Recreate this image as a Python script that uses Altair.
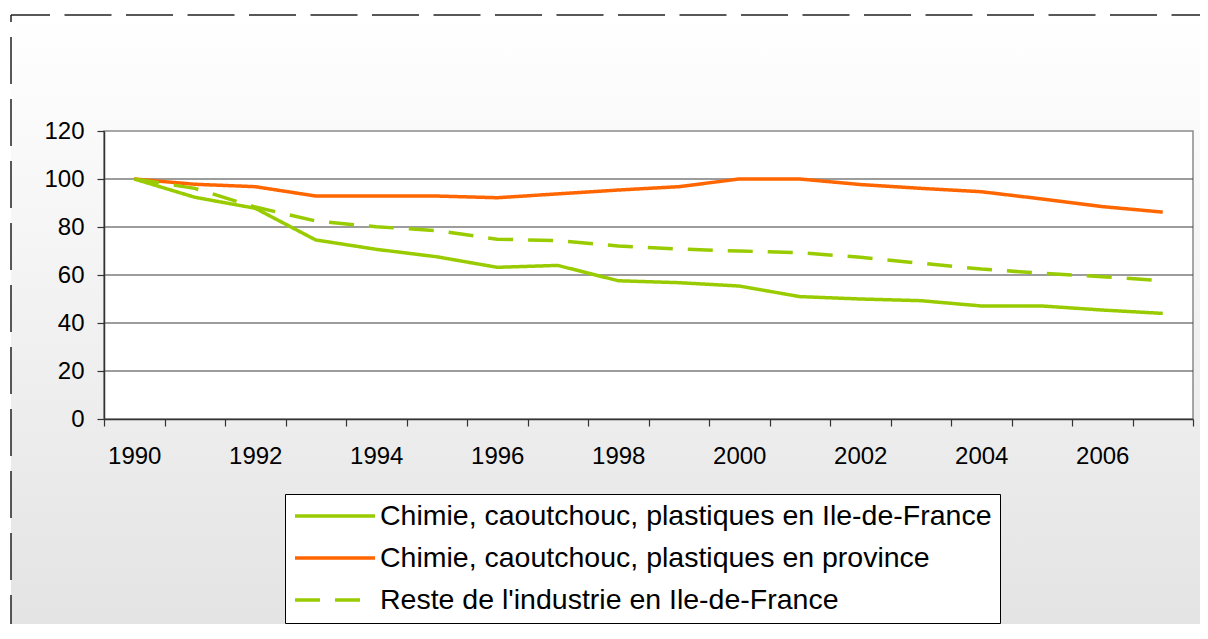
import altair as alt
import pandas as pd

years = list(range(1990, 2008))
chimie_idf = [100, 92.4, 87.8, 74.6, 70.7, 67.6, 63.2, 64.0, 57.6, 56.8, 55.4, 51.0, 50.0, 49.3, 47.1, 47.1, 45.4, 44.0]
chimie_prov = [100, 97.8, 96.8, 92.9, 92.9, 92.9, 92.2, 93.8, 95.4, 96.8, 100, 100, 97.7, 96.1, 94.7, 91.7, 88.5, 86.2]
reste_idf = [100, 96.1, 88.3, 82.5, 80.1, 78.5, 74.9, 74.3, 72.1, 70.8, 70.0, 69.3, 67.4, 64.9, 62.5, 60.7, 59.3, 57.6]

series_names = [
    "Chimie, caoutchouc, plastiques en Ile-de-France",
    "Chimie, caoutchouc, plastiques en province",
    "Reste de l'industrie en Ile-de-France",
]
series_colors = ["#99cc00", "#ff6600", "#99cc00"]
series_dash = [[1, 0], [1, 0], [25, 15]]
y_ticks = [0, 20, 40, 60, 80, 100, 120]
grid_vals = [20, 40, 60, 80, 100]

rows = []
for name, vals in zip(series_names, [chimie_idf, chimie_prov, reste_idf]):
    for yr, v in zip(years, vals):
        rows.append({"annee": yr, "valeur": v, "serie": name})
df = pd.DataFrame(rows)

x_ticks = [y - 0.5 for y in years] + [years[-1] + 0.5]

W, H = 1089, 288
FONT = "Liberation Sans"

xscale = alt.Scale(domain=[years[0] - 0.5, years[-1] + 0.5], nice=False, zero=False)
yscale = alt.Scale(domain=[0, 120], nice=False)

one = pd.DataFrame({"k": [0]})

bg = alt.Chart(one).mark_rect(
    fill=alt.Gradient(
        gradient="linear",
        stops=[alt.GradientStop(color="#ffffff", offset=0),
               alt.GradientStop(color="#e3e3e3", offset=1)],
        x1=0, x2=0, y1=0, y2=1,
    ),
    strokeWidth=0,
).encode(x=alt.value(-93), x2=alt.value(1200), y=alt.value(-116), y2=alt.value(508))

top_border = alt.Chart(one).mark_rule(
    color="#222222", strokeWidth=1.5, strokeDash=[47, 14.5], strokeDashOffset=8
).encode(x=alt.value(-93), x2=alt.value(1200), y=alt.value(-116))

left_border = alt.Chart(one).mark_rule(
    color="#222222", strokeWidth=1.5, strokeDash=[47, 15], strokeDashOffset=40
).encode(x=alt.value(-93), y=alt.value(-116), y2=alt.value(508))

plot_bg = alt.Chart(one).mark_rect(
    fill="white", stroke="#8a8a8a", strokeWidth=1.5
).encode(x=alt.value(0), x2=alt.value(W), y=alt.value(0), y2=alt.value(H))

grid = alt.Chart(pd.DataFrame({"g": grid_vals})).mark_rule(
    color="#3a3a3a", strokeWidth=1
).encode(
    y=alt.Y("g:Q", scale=yscale, title=None),
    x=alt.value(0), x2=alt.value(W),
)

lines = alt.Chart(df).mark_line(strokeWidth=3.5).encode(
    x=alt.X(
        "annee:Q", scale=xscale, title=None,
        axis=alt.Axis(
            values=x_ticks,
            labelExpr="(datum.value + 0.5) % 2 === 0 && datum.value < 2007 ? format(datum.value + 0.5, 'd') : ''",
            labelOffset=30.25, labelFlush=False, labelOverlap=False,
            tickSize=7, labelPadding=18, grid=False, zindex=1,
            domainColor="#333333", domainWidth=1.5, tickColor="#333333", tickWidth=1.2,
            labelFont=FONT, labelFontSize=24, labelColor="black",
        ),
    ),
    y=alt.Y(
        "valeur:Q", scale=yscale, title=None,
        axis=alt.Axis(
            values=y_ticks, tickSize=7, labelPadding=13, grid=False, zindex=1,
            domainColor="#333333", domainWidth=1.5, tickColor="#333333", tickWidth=1.2,
            labelFont=FONT, labelFontSize=24, labelColor="black",
        ),
    ),
    color=alt.Color(
        "serie:N", scale=alt.Scale(domain=series_names, range=series_colors),
        legend=alt.Legend(
            title=None, orient="none", legendX=181, legendY=363,
            symbolType="stroke", symbolSize=6400, symbolStrokeWidth=3.5,
            clipHeight=28, rowPadding=13, labelOffset=3, padding=8,
            labelFont=FONT, labelFontSize=28.5, labelColor="black", labelLimit=2000,
            strokeColor="black", fillColor="white", zindex=1,
        ),
    ),
    strokeDash=alt.StrokeDash(
        "serie:N", scale=alt.Scale(domain=series_names, range=series_dash), legend=None
    ),
)

chart = alt.layer(bg, top_border, left_border, plot_bg, grid, lines).properties(
    width=W, height=H,
    padding={"left": 96, "top": 123, "right": 7, "bottom": 205},
    autosize=alt.AutoSizeParams(type="none"),
).configure_view(stroke=None)

chart.save("out.html", embed_options={"renderer": "svg", "actions": False})
